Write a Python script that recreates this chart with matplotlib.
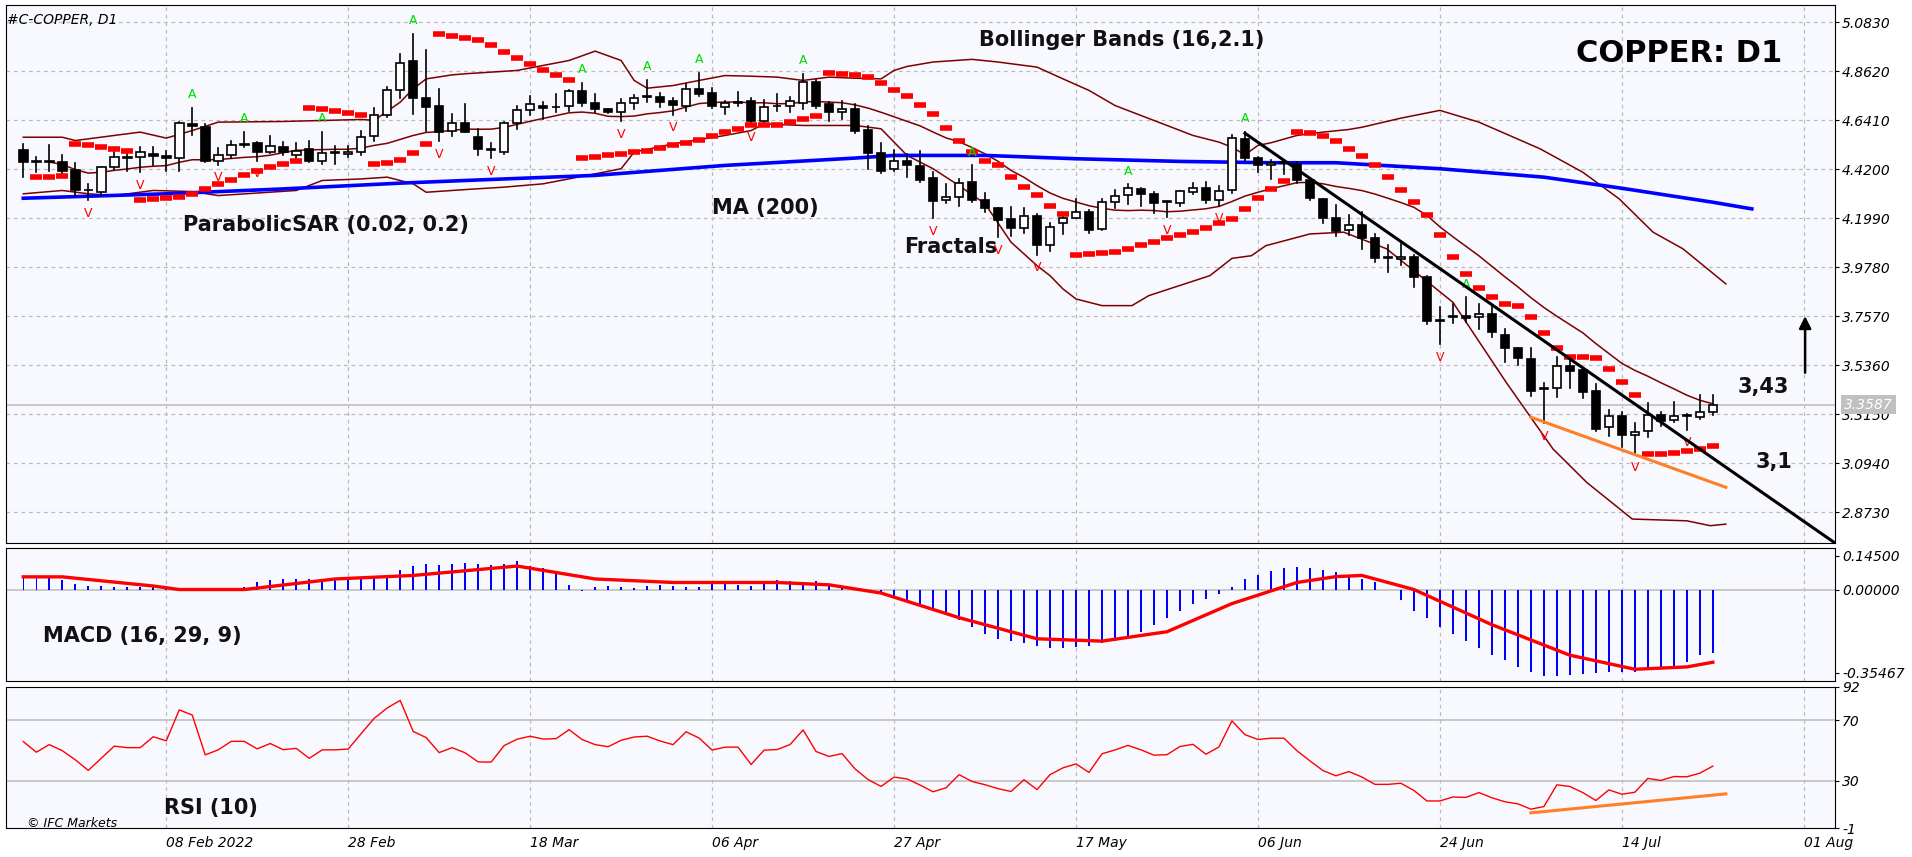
import numpy as np
import pandas as pd
import matplotlib
matplotlib.use("Agg")
import matplotlib.pyplot as plt
from matplotlib.patches import Rectangle

opens = [4.507,4.452,4.452,4.452,4.417,4.324,4.319,4.429,4.471,4.474,4.489,4.479,4.470,4.623,4.612,4.458,4.485,4.531,4.537,4.497,
         4.519,4.485,4.509,4.459,4.494,4.489,4.497,4.569,4.662,4.778,4.907,4.740,4.704,4.591,4.628,4.564,4.507,4.497,4.628,4.688,
         4.707,4.698,4.703,4.772,4.718,4.692,4.677,4.718,4.745,4.745,4.727,4.707,4.782,4.763,4.700,4.718,4.727,4.635,4.703,4.707,
         4.718,4.812,4.712,4.677,4.692,4.597,4.492,4.422,4.459,4.434,4.380,4.279,4.294,4.361,4.283,4.244,4.196,4.154,4.208,4.080,
         4.176,4.202,4.226,4.151,4.271,4.304,4.331,4.309,4.271,4.268,4.319,4.334,4.282,4.324,4.557,4.471,4.437,4.449,4.444,4.369,
         4.286,4.202,4.148,4.167,4.110,4.020,4.013,4.025,3.935,3.737,3.755,3.757,3.752,3.767,3.673,3.613,3.565,3.427,3.433,3.535,
         3.515,3.419,3.256,3.309,3.222,3.241,3.314,3.290,3.306,3.302,3.324]
closes = [4.452,4.452,4.452,4.410,4.324,4.324,4.429,4.474,4.471,4.497,4.479,4.470,4.628,4.614,4.455,4.482,4.531,4.531,4.497,4.524,
          4.497,4.503,4.459,4.494,4.494,4.497,4.564,4.665,4.775,4.898,4.740,4.700,4.587,4.628,4.587,4.509,4.507,4.628,4.685,4.712,
          4.695,4.698,4.772,4.718,4.689,4.677,4.718,4.740,4.745,4.725,4.710,4.782,4.757,4.704,4.718,4.718,4.635,4.700,4.703,4.727,
          4.812,4.707,4.677,4.692,4.590,4.492,4.410,4.456,4.437,4.369,4.276,4.294,4.357,4.283,4.244,4.193,4.154,4.207,4.080,4.161,
          4.202,4.226,4.146,4.271,4.301,4.337,4.306,4.268,4.271,4.322,4.336,4.279,4.322,4.560,4.471,4.437,4.449,4.449,4.369,4.291,
          4.200,4.143,4.167,4.110,4.020,4.020,4.025,3.935,3.737,3.737,3.755,3.748,3.767,3.688,3.613,3.568,3.422,3.433,3.535,3.512,
          3.417,3.249,3.309,3.223,3.234,3.314,3.287,3.309,3.306,3.324,3.3587]
highs = [4.534,4.474,4.530,4.485,4.447,4.354,4.429,4.497,4.494,4.519,4.519,4.504,4.632,4.697,4.625,4.515,4.545,4.587,4.542,4.569,
         4.542,4.539,4.545,4.587,4.524,4.524,4.591,4.695,4.790,4.940,5.030,4.958,4.782,4.669,4.715,4.599,4.537,4.632,4.704,4.752,
         4.725,4.760,4.779,4.809,4.760,4.692,4.737,4.755,4.823,4.763,4.740,4.805,4.854,4.787,4.727,4.767,4.742,4.730,4.757,4.745,
         4.850,4.823,4.725,4.727,4.712,4.614,4.537,4.507,4.489,4.502,4.407,4.354,4.377,4.437,4.311,4.244,4.250,4.244,4.219,4.176,
         4.219,4.286,4.238,4.286,4.324,4.351,4.336,4.316,4.271,4.322,4.357,4.361,4.346,4.572,4.587,4.474,4.462,4.459,4.452,4.377,
         4.286,4.258,4.214,4.226,4.128,4.076,4.083,4.031,3.938,3.797,3.812,3.842,3.812,3.805,3.700,3.613,3.613,3.457,3.572,3.568,
         3.520,3.452,3.334,3.324,3.274,3.366,3.324,3.369,3.317,3.404,3.404]
lows = [4.384,4.407,4.414,4.391,4.301,4.279,4.301,4.422,4.414,4.407,4.437,4.414,4.414,4.572,4.452,4.440,4.470,4.519,4.459,4.494,
        4.485,4.464,4.452,4.444,4.444,4.474,4.482,4.545,4.655,4.742,4.670,4.594,4.545,4.569,4.587,4.485,4.470,4.489,4.599,4.665,
        4.647,4.677,4.680,4.704,4.677,4.673,4.635,4.692,4.722,4.698,4.665,4.683,4.752,4.695,4.670,4.705,4.620,4.632,4.682,4.677,
        4.692,4.695,4.635,4.647,4.584,4.422,4.404,4.414,4.384,4.364,4.199,4.268,4.252,4.271,4.226,4.113,4.121,4.133,4.034,4.049,
        4.128,4.199,4.131,4.148,4.246,4.264,4.256,4.222,4.205,4.254,4.309,4.268,4.256,4.313,4.459,4.407,4.377,4.400,4.357,4.279,
        4.176,4.121,4.124,4.061,4.000,3.955,3.988,3.888,3.722,3.632,3.728,3.733,3.700,3.665,3.550,3.538,3.397,3.274,3.392,3.433,
        3.388,3.242,3.216,3.169,3.136,3.211,3.264,3.281,3.246,3.293,3.314]

ma200_idx = [0, 11, 20, 29, 34, 44, 54, 64, 67, 74, 81, 89, 96, 101, 109, 117, 123, 130, 133]
ma200_val = [4.289, 4.309, 4.331, 4.357, 4.369, 4.392, 4.437, 4.470, 4.482, 4.482, 4.467, 4.455, 4.449, 4.449, 4.422, 4.384, 4.334, 4.271, 4.241]

bb_up_idx = [0, 3, 4, 7, 9, 11, 13, 15, 20, 26, 27, 29, 30, 31, 33, 34, 38, 42, 44, 46, 47, 48, 50, 52, 54, 56, 58, 60, 62, 64, 66, 67, 68,
             70, 73, 75, 78, 80, 82, 84, 86, 88, 90, 92, 93, 94, 95, 96, 98, 100, 102, 103, 106, 109, 112, 116.7, 120, 122.8, 125.4, 127.7, 131]
bb_up_val = [4.564, 4.564, 4.549, 4.572, 4.587, 4.560, 4.594, 4.632, 4.635, 4.644, 4.640, 4.722, 4.782, 4.827, 4.845, 4.850, 4.865, 4.910, 4.952, 4.910,
             4.820, 4.785, 4.797, 4.820, 4.842, 4.839, 4.835, 4.820, 4.835, 4.830, 4.827, 4.865, 4.883, 4.903, 4.915, 4.903, 4.880, 4.827, 4.775,
             4.707, 4.662, 4.617, 4.572, 4.542, 4.519, 4.485, 4.527, 4.539, 4.572, 4.587, 4.599, 4.609, 4.650, 4.685, 4.632, 4.512, 4.406, 4.286,
             4.136, 4.061, 3.903]
bb_lo_idx = [0, 3, 5, 7, 10, 13, 15, 21, 23, 26, 28, 30, 31, 34, 37, 40, 44, 46, 47, 50, 54, 56, 57, 60, 64, 66, 67, 68, 70, 72, 74, 76, 78, 79,
             80, 81, 83, 85.3, 86.6, 91.3, 93, 94.5, 95.6, 99, 101.6, 104.9, 110, 114.1, 117.7, 120.3, 123.8, 128, 129.8, 131]
bb_lo_val = [4.309, 4.324, 4.309, 4.301, 4.324, 4.319, 4.301, 4.324, 4.369, 4.376, 4.384, 4.354, 4.316, 4.328, 4.339, 4.354, 4.399, 4.422, 4.497,
             4.534, 4.572, 4.594, 4.624, 4.617, 4.617, 4.602, 4.542, 4.482, 4.422, 4.346, 4.264, 4.091, 3.985, 3.940, 3.880, 3.835, 3.805, 3.805,
             3.850, 3.940, 4.018, 4.030, 4.075, 4.128, 4.136, 4.061, 3.820, 3.459, 3.159, 3.008, 2.843, 2.835, 2.813, 2.820]

macd_main = [0.054,0.054,0.050,0.040,0.025,
             0.015,0.015,0.012,0.010,0.012,0.010,0.005,
             0.0,-0.005,0.0,0.002,0.004,0.010,
             0.030,0.040,0.045,0.045,0.045,0.040,0.040,0.040,0.045,0.050,0.060,0.085,
             0.100,0.110,0.105,0.110,0.115,0.110,0.105,0.110,0.120,0.100,0.090,0.070,
             0.020,-0.005,0.010,0.015,0.010,0.005,0.015,0.020,0.015,0.010,0.010,0.025,0.030,0.020,0.015,0.025,0.040,
             0.035,0.030,0.035,0.025,0.010,0.000,-0.010,
             -0.015,-0.030,-0.050,-0.070,-0.090,-0.110,-0.130,-0.160,-0.190,-0.210,
             -0.220,-0.230,-0.240,-0.250,-0.250,-0.245,-0.240,
             -0.230,-0.220,-0.200,-0.180,-0.150,-0.120,-0.090,-0.060,-0.040,-0.020,0.010,
             0.045,0.060,0.080,0.090,0.095,0.090,0.085,0.075,0.060,0.045,0.030,0.000,
             -0.045,-0.090,-0.120,-0.160,-0.190,-0.220,-0.250,-0.280,-0.300,-0.330,-0.350,-0.370,-0.370,
             -0.365,-0.360,-0.355,-0.350,-0.350,-0.350,-0.345,-0.340,-0.330,-0.310,-0.280,-0.270]
sig_idx = [0, 3, 10, 12, 17, 24, 30, 38, 44, 50, 58, 62, 66, 72, 78, 83, 88, 93, 98, 101, 103, 107, 113, 119, 124, 128, 130]
sig_val = [0.054, 0.054, 0.015, 0.0, 0.0, 0.045, 0.060, 0.100, 0.045, 0.030, 0.030, 0.020, -0.015, -0.120, -0.210, -0.220, -0.180,
           -0.060, 0.030, 0.055, 0.060, 0.000, -0.150, -0.280, -0.340, -0.330, -0.310]
rsi_first = [56, 49, 54, 50, 44, 37, 45, 53, 52, 52]

date_idx = [11, 25, 39, 53, 67, 81, 95, 109, 123, 137]
date_labels = ['08 Feb 2022', '28 Feb', '18 Mar', '06 Apr', '27 Apr', '17 May', '06 Jun', '24 Jun', '14 Jul', '01 Aug']
price_ticks = [5.0830, 4.8620, 4.6410, 4.4200, 4.1990, 3.9780, 3.7570, 3.5360, 3.3150, 3.0940, 2.8730]

trend_black = ([94, 139.4], [4.582, 2.735])
trend_orange = ([116, 131], [3.302, 2.986])
rsi_orange = ([116, 131], [9.0, 21.5])

O = np.array(opens); C = np.array(closes); H = np.array(highs); L = np.array(lows)
n = len(C)
x = np.arange(n)
cs = pd.Series(C)
mid = cs.rolling(16, min_periods=3).mean()

def psar(H, L, af0=0.02, afmax=0.2):
    sar = np.zeros(len(H)); bull = True; af = af0; ep = H[0]; sar[0] = L[0]
    for i in range(1, len(H)):
        s = sar[i-1] + af * (ep - sar[i-1])
        if bull:
            s = min(s, L[i-1], L[max(i-2, 0)])
            if L[i] < s:
                bull = False; s = ep; ep = L[i]; af = af0
            elif H[i] > ep:
                ep = H[i]; af = min(af + af0, afmax)
        else:
            s = max(s, H[i-1], H[max(i-2, 0)])
            if H[i] > s:
                bull = True; s = ep; ep = H[i]; af = af0
            elif L[i] < ep:
                ep = L[i]; af = min(af + af0, afmax)
        sar[i] = s
    return sar
sar = psar(H, L)

d = cs.diff()
g = d.clip(lower=0).ewm(alpha=1/10, adjust=False).mean()
l_ = (-d.clip(upper=0)).ewm(alpha=1/10, adjust=False).mean()
rsi = (100 - 100 / (1 + g / l_)).to_numpy()
rsi[:len(rsi_first)] = rsi_first

W, Hh = 1912, 857
fig = plt.figure(figsize=(W/100, Hh/100), dpi=100)
fig.patch.set_facecolor('white')
bg = '#F7F9FE'
left = 6/W; width = (1835-6)/W
ax = fig.add_axes([left, 1-543/Hh, width, 538/Hh])
axm = fig.add_axes([left, 1-681/Hh, width, 133/Hh], sharex=ax)
axr = fig.add_axes([left, 1-828/Hh, width, 141/Hh], sharex=ax)
xl = (-1.33, 139.4)
for a in (ax, axm, axr):
    a.set_facecolor(bg)
    a.yaxis.tick_right()
    a.tick_params(axis='y', length=3, labelsize=10, pad=2)
    a.tick_params(axis='x', length=0)
    for t in date_idx:
        a.axvline(t, color='#BBBBBB', ls=(0, (3, 3)), lw=0.9, zorder=0)
    for s in a.spines.values():
        s.set_color('black')
    a.set_xlim(*xl)
ax.set_ylim(2.735, 5.16)
ax.set_yticks(price_ticks)
ax.set_yticklabels([f'{v:.4f}' for v in price_ticks], fontstyle='italic')
for v in price_ticks:
    ax.axhline(v, color='#BBBBBB', ls=(0, (3, 3)), lw=0.9, zorder=0)
plt.setp(ax.get_xticklabels(), visible=False)
plt.setp(axm.get_xticklabels(), visible=False)

wdt = 0.66
for i in range(n):
    ax.plot([i, i], [L[i], H[i]], color='black', lw=1.2, zorder=3)
    b = min(O[i], C[i]); h = max(abs(C[i]-O[i]), 0.004)
    fc = 'white' if C[i] >= O[i] else 'black'
    ax.add_patch(Rectangle((i-wdt/2, b), wdt, h, facecolor=fc, edgecolor='black', lw=1.2, zorder=4))

ax.plot(bb_up_idx, bb_up_val, color='#7B0000', lw=1.1, zorder=2)
ax.plot(x, mid, color='#7B0000', lw=1.1, zorder=2)
ax.plot(bb_lo_idx, bb_lo_val, color='#7B0000', lw=1.1, zorder=2)
ax.plot(ma200_idx, ma200_val, color='#0000FF', lw=2.6, zorder=2)
ax.plot(x[1:], sar[1:], ls='none', marker='_', ms=9, mew=4, color='#FF0000', zorder=5)

for i in range(2, n-2):
    if H[i] > max(H[i-2], H[i-1], H[i+1], H[i+2]):
        ax.text(i, H[i] + 0.03, 'A', color='#00DD00', fontsize=9, ha='center', va='bottom', zorder=6)
    if L[i] < min(L[i-2], L[i-1], L[i+1], L[i+2]):
        ax.text(i, L[i] - 0.03, 'V', color='#FF0000', fontsize=9, ha='center', va='top', zorder=6)

ax.plot(*trend_black, color='black', lw=2.2, zorder=6)
ax.plot(*trend_orange, color='#FF7F27', lw=2.2, zorder=6)
ax.axhline(closes[-1], color='#C0C0C0', lw=1.2, zorder=1)
ax.text(1.005, closes[-1], f'{closes[-1]:.4f}', transform=ax.get_yaxis_transform(), va='center', ha='left',
        fontsize=10, fontstyle='italic', color='white', bbox=dict(facecolor='#C0C0C0', edgecolor='none', pad=2))
ax.annotate('', xy=(137.1, 3.77), xytext=(137.1, 3.49),
            arrowprops=dict(arrowstyle='-|>', color='black', lw=1.8, mutation_scale=18))

bold = dict(fontweight='bold', color='#111111', fontsize=15)
ax.text(0.0008, 0.985, '#C-COPPER, D1', transform=ax.transAxes, fontsize=10, fontstyle='italic', va='top')
ax.text(131.9, 3.438, '3,43', ha='left', va='center', **bold)
ax.text(133.3, 3.099, '3,1', ha='left', va='center', **bold)
ax.text(119.5, 4.94, 'COPPER: D1', fontweight='bold', fontsize=22, ha='left', va='center')
ax.text(73.5, 5.0, 'Bollinger Bands (16,2.1)', ha='left', va='center', **bold)
ax.text(12.3, 4.17, 'ParabolicSAR (0.02, 0.2)', ha='left', va='center', **bold)
ax.text(53, 4.245, 'MA (200)', ha='left', va='center', **bold)
ax.text(67.8, 4.07, 'Fractals', ha='left', va='center', **bold)

axm.bar(x, macd_main, width=0.12, color='#0000FF')
axm.plot(sig_idx, sig_val, color='#FF0000', lw=2.4)
axm.axhline(0, color='#C0C0C0', lw=1.2, zorder=0)
axm.set_ylim(-0.39, 0.177)
axm.set_yticks([0.145, 0.0, -0.35467])
axm.set_yticklabels(['0.14500', '0.00000', '-0.35467'], fontstyle='italic')
axm.text(1.5, -0.2, 'MACD (16, 29, 9)', ha='left', va='center', **bold)

axr.plot(x, rsi, color='#FF0000', lw=1.0)
axr.axhline(70, color='#C0C0C0', lw=1.2, zorder=0)
axr.axhline(30, color='#C0C0C0', lw=1.2, zorder=0)
axr.plot(*rsi_orange, color='#FF7F27', lw=2.2)
axr.set_ylim(-1, 92)
axr.set_yticks([92, 70, 30, -1])
axr.set_yticklabels(['92', '70', '30', '-1'], fontstyle='italic')
axr.text(10.8, 12, 'RSI (10)', ha='left', va='center', **bold)
axr.text(0.3, 2, '© IFC Markets', ha='left', va='center', fontsize=9, fontstyle='italic')
axr.set_xticks(date_idx)
axr.set_xticklabels(date_labels, ha='left', fontsize=10, fontstyle='italic')
axr.tick_params(axis='x', pad=6)

fig.savefig('out.png', dpi=100, facecolor='white')
